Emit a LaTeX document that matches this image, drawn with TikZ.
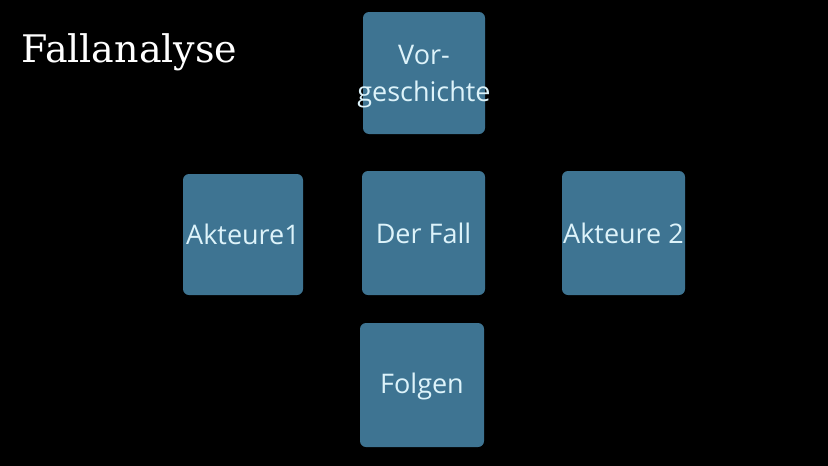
\documentclass[tikz,border=0pt]{standalone}
\usepackage{fontspec}
\setmainfont{Open Sans}
\newfontfamily\titlefont{DejaVu Serif}
\definecolor{boxblue}{HTML}{3E7492}
\definecolor{boxtext}{HTML}{DDF3FA}
\tikzset{
  box/.style={fill=boxblue, rounded corners=6pt, inner sep=0pt, text=boxtext,
    font=\fontsize{27}{37}\selectfont, align=center},
}
\begin{document}
\begin{tikzpicture}[x=1pt,y=-1pt]
\fill[black] (0,0) rectangle (828,466);
\path[use as bounding box] (0,0) rectangle (828,466);
\node[anchor=base west, text=white, inner sep=0pt, font=\titlefont\fontsize{38}{42}\selectfont] (title) at (21,62) {Fallanalyse};
\node[box, minimum width=122pt, minimum height=122pt, text depth=-3pt] (vor) at (424,73) {\makebox[0pt]{Vor-}\\\makebox[0pt]{geschichte}};
\node[box, minimum width=120pt, minimum height=121pt] (a1) at (243,234.5) {Akteure1};
\node[box, minimum width=123pt, minimum height=124pt] (fall) at (423.5,233) {Der Fall};
\node[box, minimum width=123pt, minimum height=124pt] (a2) at (623.5,233) {Akteure 2};
\node[box, minimum width=124pt, minimum height=124pt, text depth=3pt] (folgen) at (422,385) {Folgen};
\end{tikzpicture}
\end{document}
